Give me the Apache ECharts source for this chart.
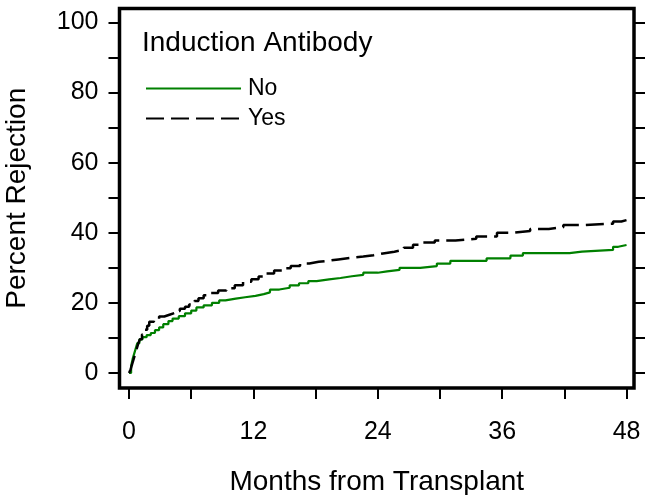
<!DOCTYPE html>
<html>
<head>
<meta charset="utf-8">
<script src="https://cdn.jsdelivr.net/npm/echarts@6/dist/echarts.min.js"></script>
<style>
html,body{margin:0;padding:0;background:#fff;}
#chart{width:652px;height:495px;}
</style>
</head>
<body>
<div id="chart"></div>
<script>
// Months from transplant (event times) and cumulative percent rejection
const noMonths = [0,0.2,0.35,0.5,0.65,0.8,1.0,1.3,1.7,2.1,2.5,2.9,3.3,3.8,4.2,4.8,5.4,6.0,6.5,7.2,8.0,8.7,9.3,10.3,11.2,12.2,13.0,13.6,14.5,15.5,16.4,17.3,18.1,19.3,20.4,21.5,22.6,24.0,24.9,26.1,28.1,29.7,31.0,34.5,36.8,38.0,42.5,43.7,46.7,47.2,48.0];
const noValues = [0,2,4,5.5,7,8.5,9.6,10.2,10.8,11.4,12.2,13.0,13.9,14.8,15.5,16.2,17.0,17.8,18.7,19.3,20.0,20.7,21.2,21.6,22.0,22.5,23.0,23.8,24.3,25.0,25.6,26.2,26.7,27.1,27.6,28.0,28.6,29.0,29.4,30.0,30.5,31.2,32.0,32.7,33.5,34.2,34.6,35.1,36.0,36.5,36.5];
const yesMonths = [0,0.15,0.3,0.45,0.6,0.75,0.9,1.05,1.25,1.5,1.75,1.95,2.4,2.9,3.4,3.9,4.4,4.9,5.4,5.8,6.3,6.7,7.2,7.9,8.6,9.4,10.2,11.0,11.8,12.5,13.2,14.0,14.8,15.6,16.5,17.4,18.3,19.2,20.2,21.3,22.6,23.6,24.5,25.6,26.5,27.4,28.2,29.5,31.5,33.5,35.5,37.0,38.7,40.5,41.9,44.0,46.7,47.5,48.1];
const yesValues = [0,1,2.5,4,5.5,7,8.5,9.6,11,12.3,13.5,14.6,15.4,16.1,16.6,17.1,17.7,18.3,18.9,19.5,20.5,21.3,22.2,22.8,23.5,24.2,25.0,26.0,26.7,27.5,28.4,29.2,29.9,30.5,31.2,31.7,32.0,32.4,32.8,33.2,33.6,34.1,34.6,35.1,35.7,36.6,37.2,37.8,38.3,38.9,40.0,40.5,41.1,41.6,42.2,42.6,43.2,43.7,43.7];
const xTicks = [0,6,12,18,24,30,36,42,48];
const xLabels = [0,12,24,36,48];
const yTicks = [0,10,20,30,40,50,60,70,80,90,100];
const yLabels = [0,20,40,60,80,100];

const pairs = (xs, ys) => xs.map((x, i) => [x, ys[i]]);
const FONT = '"Liberation Sans", Arial, Helvetica, sans-serif';

const chart = echarts.init(document.getElementById('chart'), null, {renderer: 'canvas'});
const yBase = {
  type: 'value', min: -4.3, max: 104.0,
  splitLine: {show: false},
  axisLine: {show: false, onZero: false},
  axisTick: {show: true, inside: false, length: 11, customValues: yTicks, lineStyle: {color: '#000', width: 2}}
};
chart.setOption({
  animation: false,
  backgroundColor: '#fff',
  title: {
    text: 'Induction Antibody', left: 137, top: 24,
    textStyle: {fontFamily: FONT, fontSize: 28, fontWeight: 'normal', color: '#000'}
  },
  legend: {
    orient: 'vertical', left: 140, top: 72,
    itemWidth: 95, itemHeight: 20, itemGap: 7,
    itemStyle: {opacity: 0},
    textStyle: {fontFamily: FONT, fontSize: 23, color: '#000', padding: [0, 0, 0, 2]},
    data: ['No', 'Yes']
  },
  grid: {
    left: 119.5, right: 18, top: 8.5, bottom: 107,
    outerBoundsMode: 'none',
    show: true, borderColor: '#000', borderWidth: 3.5, backgroundColor: 'transparent'
  },
  xAxis: {
    type: 'value', min: -0.92, max: 48.72,
    name: 'Months from Transplant', nameLocation: 'middle', nameGap: 80,
    nameTextStyle: {fontFamily: FONT, fontSize: 28, color: '#000'},
    splitLine: {show: false},
    axisLine: {show: false, onZero: false},
    axisTick: {show: true, inside: false, length: 11, customValues: xTicks, lineStyle: {color: '#000', width: 2}},
    axisLabel: {customValues: xLabels, margin: 32, fontFamily: FONT, fontSize: 25, color: '#000'}
  },
  yAxis: [
    Object.assign({}, yBase, {
      position: 'left',
      name: 'Percent Rejection', nameLocation: 'middle', nameGap: 88, nameRotate: 90,
      nameTextStyle: {fontFamily: FONT, fontSize: 28, color: '#000'},
      axisLabel: {customValues: yLabels, margin: 21, fontFamily: FONT, fontSize: 25, color: '#000'}
    }),
    Object.assign({}, yBase, {
      position: 'right',
      axisLabel: {show: false}
    })
  ],
  series: [
    {
      name: 'No', type: 'line', step: 'end', symbol: 'none', yAxisIndex: 0,
      data: pairs(noMonths, noValues),
      lineStyle: {color: '#008000', width: 2.2, type: 'solid'},
      itemStyle: {color: '#008000'}
    },
    {
      name: 'Yes', type: 'line', step: 'end', symbol: 'none', yAxisIndex: 0,
      data: pairs(yesMonths, yesValues),
      lineStyle: {color: '#000', width: 2.5, type: [18, 7]},
      itemStyle: {color: '#000'}
    }
  ]
});
</script>
</body>
</html>
